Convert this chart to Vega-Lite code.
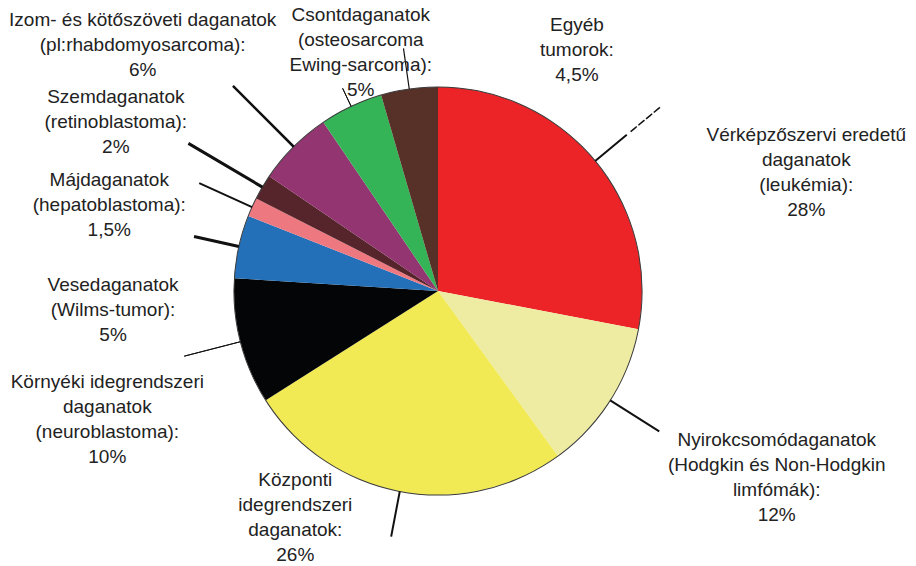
{
  "$schema": "https://vega.github.io/schema/vega-lite/v6.json",
  "width": 876,
  "height": 550,
  "padding": {"left": 0, "top": 16, "right": 40, "bottom": 0},
  "autosize": {"type": "none"},
  "background": "white",
  "config": {
    "view": {"stroke": null},
    "text": {"font": "Liberation Sans", "fontSize": 19, "lineHeight": 25, "lineBreak": "\n", "align": "center", "baseline": "middle", "color": "#222222"}
  },
  "data": {"values": [
    {"i": 1, "name": "Vérképző", "label": "Vérképzőszervi eredetű\ndaganatok\n(leukémia):\n28%", "value": 28},
    {"i": 2, "name": "Nyirok", "label": "Nyirokcsomódaganatok\n(Hodgkin és Non-Hodgkin\nlimfómák):\n12%", "value": 12},
    {"i": 3, "name": "Központi", "label": "Központi\nidegrendszeri\ndaganatok:\n26%", "value": 26},
    {"i": 4, "name": "Környéki", "label": "Környéki idegrendszeri\ndaganatok\n(neuroblastoma):\n10%", "value": 10},
    {"i": 5, "name": "Vese", "label": "Vesedaganatok\n(Wilms-tumor):\n5%", "value": 5},
    {"i": 6, "name": "Máj", "label": "Májdaganatok\n(hepatoblastoma):\n1,5%", "value": 1.5},
    {"i": 7, "name": "Szem", "label": "Szemdaganatok\n(retinoblastoma):\n2%", "value": 2},
    {"i": 8, "name": "Izom", "label": "Izom- és kötőszöveti daganatok\n(pl:rhabdomyosarcoma):\n6%", "value": 6},
    {"i": 9, "name": "Csont", "label": "Csontdaganatok\n(osteosarcoma\nEwing-sarcoma):\n5%", "value": 5},
    {"i": 10, "name": "Egyéb", "label": "Egyéb\ntumorok:\n4,5%", "value": 4.5}
  ]},
  "encoding": {
    "theta": {"field": "value", "type": "quantitative", "stack": true},
    "order": {"field": "i", "type": "quantitative"}
  },
  "layer": [
    {
      "mark": {"type": "arc", "radius": 204},
      "encoding": {
        "color": {"field": "name", "type": "nominal", "legend": null,
          "scale": {"domain": ["Vérképző", "Nyirok", "Központi", "Környéki", "Vese", "Máj", "Szem", "Izom", "Csont", "Egyéb"],
                    "range": ["#EC2327", "#EEEBA2", "#F1EA55", "#030507", "#2470B8", "#EE7880", "#55252B", "#923570", "#34B457", "#573127"]}}
      }
    },
    {
      "transform": [{"aggregate": [{"op": "sum", "field": "value", "as": "value"}]}],
      "mark": {"type": "arc", "radius": 204.6, "radius2": 203.6, "color": "#3a3a3a"}
    },
    {
      "mark": {"type": "arc", "radius": 290, "radius2": 204, "padAngle": 3, "fillOpacity": 0, "stroke": "#111111"},
      "encoding": {
        "strokeWidth": {"condition": {"test": "datum.name === 'Szem'", "value": 3}, "value": 2.5},
        "strokeOpacity": {"condition": {"test": "datum.name === 'Izom' || datum.name === 'Szem'", "value": 1}, "value": 0}
      }
    },
    {
      "mark": {"type": "arc", "radius": 262, "radius2": 204, "padAngle": 3, "fillOpacity": 0, "stroke": "#111111"},
      "encoding": {
        "strokeWidth": {"condition": {"test": "datum.name === 'Környéki'", "value": 1}, "value": 2},
        "strokeOpacity": {"condition": {"test": "datum.name === 'Máj' || datum.name === 'Környéki' || datum.name === 'Nyirok'", "value": 1}, "value": 0}
      }
    },
    {
      "mark": {"type": "arc", "radius": 250, "radius2": 204, "padAngle": 3, "fillOpacity": 0, "stroke": "#111111"},
      "encoding": {
        "strokeWidth": {"condition": {"test": "datum.name === 'Vese'", "value": 3}, "value": 2},
        "strokeOpacity": {"condition": {"test": "datum.name === 'Vese' || datum.name === 'Központi'", "value": 1}, "value": 0}
      }
    },
    {
      "mark": {"type": "arc", "radius": 245, "radius2": 204, "padAngle": 3, "fillOpacity": 0, "stroke": "#111111"},
      "encoding": {
        "strokeWidth": {"condition": {"test": "datum.name === 'Egyéb'", "value": 1.2}, "value": 2},
        "strokeDash": {"condition": {"test": "datum.name === 'Egyéb'", "value": [2, 2]}, "value": [1, 0]},
        "strokeOpacity": {"condition": {"test": "datum.name === 'Vérképző' || datum.name === 'Egyéb'", "value": 1}, "value": 0}
      }
    },
    {
      "mark": {"type": "arc", "radius": 288, "radius2": 249, "padAngle": 3, "fillOpacity": 0, "stroke": "#111111", "strokeWidth": 1.5, "strokeDash": [6, 4]},
      "encoding": {
        "strokeOpacity": {"condition": {"test": "datum.name === 'Vérképző'", "value": 1}, "value": 0}
      }
    },
    {
      "mark": {"type": "arc", "radius": 224, "radius2": 204, "padAngle": 3, "fillOpacity": 0, "stroke": "#111111", "strokeWidth": 1},
      "encoding": {
        "strokeOpacity": {"condition": {"test": "datum.name === 'Csont'", "value": 1}, "value": 0}
      }
    },
    {"mark": {"type": "text", "radius": 400, "thetaOffset": 0.2903},
     "encoding": {"text": {"condition": {"test": "datum.name === 'Vérképző'", "field": "label"}, "value": ""}}},
    {"mark": {"type": "text", "radius": 370, "thetaOffset": -0.1513},
     "encoding": {"text": {"condition": {"test": "datum.name === 'Nyirok'", "field": "label"}, "value": ""}}},
    {"mark": {"type": "text", "radius": 237, "thetaOffset": 0.4576},
     "encoding": {"text": {"condition": {"test": "datum.name === 'Központi'", "field": "label"}, "value": ""}}},
    {"mark": {"type": "text", "radius": 343, "thetaOffset": -0.0175},
     "encoding": {"text": {"condition": {"test": "datum.name === 'Környéki'", "field": "label"}, "value": ""}}},
    {"mark": {"type": "text", "radius": 325, "thetaOffset": -0.2014},
     "encoding": {"text": {"condition": {"test": "datum.name === 'Vese'", "field": "label"}, "value": ""}}},
    {"mark": {"type": "text", "radius": 347, "thetaOffset": -0.0983},
     "encoding": {"text": {"condition": {"test": "datum.name === 'Máj'", "field": "label"}, "value": ""}}},
    {"mark": {"type": "text", "radius": 376, "thetaOffset": 0.0075},
     "encoding": {"text": {"condition": {"test": "datum.name === 'Szem'", "field": "label"}, "value": ""}}},
    {"mark": {"type": "text", "radius": 401, "thetaOffset": -0.0424},
     "encoding": {"text": {"condition": {"test": "datum.name === 'Izom'", "field": "label"}, "value": ""}}},
    {"mark": {"type": "text", "radius": 287, "thetaOffset": 0.1674},
     "encoding": {"text": {"condition": {"test": "datum.name === 'Csont'", "field": "label"}, "value": ""}}},
    {"mark": {"type": "text", "radius": 300, "thetaOffset": 0.6229},
     "encoding": {"text": {"condition": {"test": "datum.name === 'Egyéb'", "field": "label"}, "value": ""}}}
  ]
}
